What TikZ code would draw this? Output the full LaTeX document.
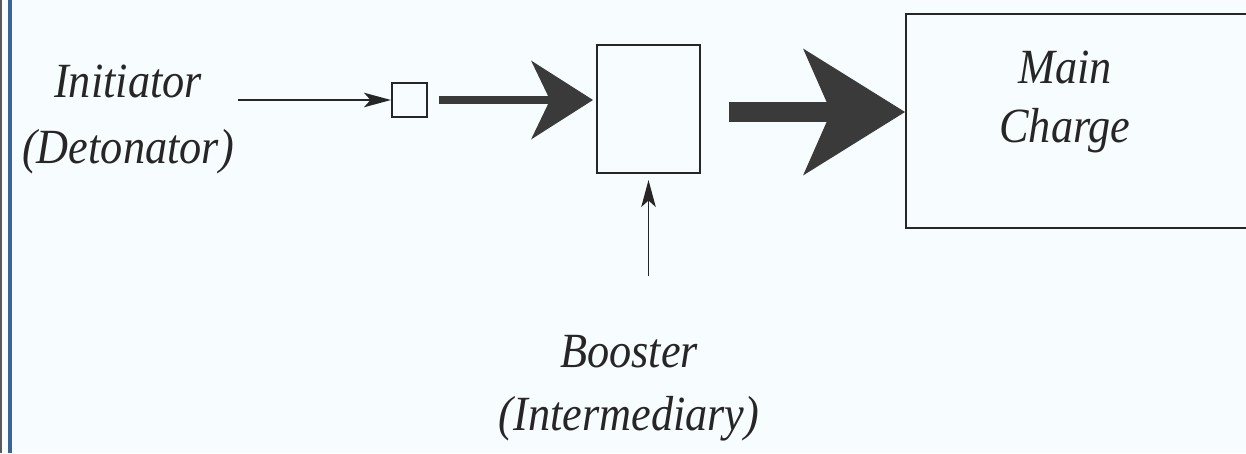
\documentclass[tikz,border=0pt]{standalone}
\usepackage{fontspec}
\setmainfont{Liberation Serif}
\newfontfamily\labfont[FakeStretch=0.9]{Liberation Serif}
\usetikzlibrary{arrows.meta,positioning}
\definecolor{scanbg}{HTML}{F7FCFE}
\definecolor{edgeblue}{HTML}{3C6396}
\definecolor{inkgray}{HTML}{3A3A3A}
\begin{document}
\begin{tikzpicture}[x=0.02cm, y=-0.02cm,
    lbl/.style={inner sep=1pt, align=center, text=black!85,
      font=\labfont\itshape\fontsize{28}{#1}\selectfont},
    lbl/.default=37.5,
    box/.style={draw=black!85, line width=1.15pt, inner sep=0pt},
    thinarr/.style={draw=black!85, line width=1pt,
      -{Stealth[length=0.54cm, width=0.29cm, inset=0.13cm]}},
    bigarr/.style={draw=inkgray, line width=#1},
    headone/.style={-{Stealth[length=1.24cm, width=1.58cm, inset=0.38cm, line width=0pt]}},
    headtwo/.style={-{Stealth[length=2.04cm, width=2.54cm, inset=0.56cm, line width=0pt]}}]
  \clip (0,0) rectangle (1246,453);
  \fill[scanbg] (0,0) rectangle (1246,453);
  \fill[black!65] (0,0) rectangle (1.5,453);
  \fill[edgeblue] (8,0) rectangle (12,453);
  % labels (base = last line)
  \node[lbl, anchor=base] (init) at (128,163) {Initiator\\(Detonator)};
  \node[lbl=33.5, anchor=base] (mainlbl) at (1065,142) {Main\\Charge};
  \node[lbl=35.3, anchor=base] (blbl) at (629,430) {Booster\\(Intermediary)};
  % boxes
  \node[box, minimum width=0.70cm, minimum height=0.68cm] (det) at (409.5,100) {};
  \node[box, minimum width=2.06cm, minimum height=2.56cm] (boost) at (648.5,109) {};
  \node[box, minimum width=7cm, minimum height=4.28cm, anchor=west] (main) at (905,121) {};
  % connectors
  \draw[thinarr] ([xshift=0.04cm]init.east |- det.west) -- (det.west);
  \draw[bigarr=0.17cm, headone, shorten >=0.06cm]
    ([xshift=0.22cm]det.east) -- (det.east -| boost.west);
  \draw[bigarr=0.40cm, headtwo]
    ([xshift=0.56cm, yshift=-0.06cm]boost.east) coordinate (mid)
    -- (mid -| main.west);
  \coordinate (bfoot) at ([yshift=-2.04cm]boost.south);
  \draw[thinarr, shorten >=0.12cm] (bfoot) -- (bfoot |- boost.south);
\end{tikzpicture}
\end{document}
